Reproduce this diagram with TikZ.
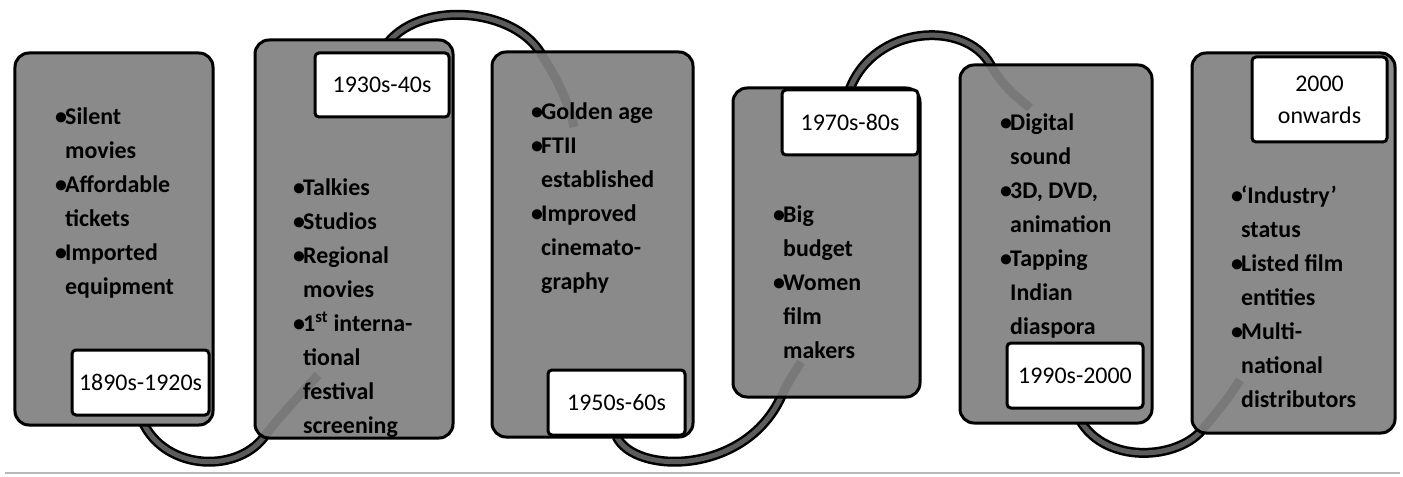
\documentclass[tikz,border=0pt]{standalone}
\usepackage{fontspec}
\setmainfont{Carlito}
\usetikzlibrary{calc}
\definecolor{boxgray}{RGB}{138,138,138}
\definecolor{ribgray}{RGB}{92,92,92}
\definecolor{rulegray}{RGB}{185,185,185}
\pgfdeclarelayer{bg}
\pgfsetlayers{bg,main}
\newcommand{\bl}{\makebox[10bp][l]{\textbullet}}
\newcommand{\ind}{\hspace*{10bp}}
\begin{document}
\begin{tikzpicture}[x=1bp,y=-1bp,
 era/.style={draw=black, line width=3bp, fill=boxgray, rounded corners=14bp, inner sep=0pt},
 tag/.style={draw=black, line width=3bp, fill=white, rounded corners=4bp, inner sep=0pt, align=center, font=\fontsize{24}{32}\selectfont},
 txt/.style={anchor=north west, inner sep=0pt, align=left, font=\fontsize{24}{34}\selectfont\bfseries},
 ribbon/.style={line width=2.5bp, double=ribgray, double distance=5bp},
 tail/.style={line width=9bp, black, opacity=0.12}]
\useasboundingbox (0,0) rectangle (1403,477);
\draw[line width=2bp, rulegray] (5,473) -- (1400,473);

% era boxes
\node[era, minimum width=198bp, minimum height=372bp] (b1) at (114,239) {};
\node[era, minimum width=198bp, minimum height=398bp] (b2) at (354,239) {};
\node[era, minimum width=201bp, minimum height=385bp] (b3) at (592.5,244.5) {};
\node[era, minimum width=187bp, minimum height=309bp] (b4) at (826.5,242.5) {};
\node[era, minimum width=192bp, minimum height=358bp] (b5) at (1056,244) {};
\node[era, minimum width=203bp, minimum height=380bp] (b6) at (1293.5,243) {};

% labels
\node[tag, minimum width=137bp, minimum height=65bp] (l1) at (140.5,382.5) {1890s-1920s};
\node[tag, minimum width=134bp, minimum height=64bp] (l2) at (382,85) {1930s-40s};
\node[tag, minimum width=137bp, minimum height=65bp] (l3) at (616.5,402.5) {1950s-60s};
\node[tag, minimum width=136bp, minimum height=65bp] (l4) at (850,122.5) {1970s-80s};
\node[tag, minimum width=136bp, minimum height=65bp] (l5) at (1075,375.5) {1990s-2000};
\node[tag, minimum width=135bp, minimum height=85bp] (l6) at (1319.5,99.5) {2000\\onwards};

% ribbon entry points and tail ends
\coordinate (r1a) at (264,437);  \coordinate (r1b) at (318,375);
\coordinate (r2a) at (540,52);   \coordinate (r2b) at (574,127);
\coordinate (r3a) at (781,397);  \coordinate (r3b) at (801,362);
\coordinate (r4a) at (990,64);   \coordinate (r4b) at (1030,108);
\coordinate (r5a) at (1202,430); \coordinate (r5b) at (1240,380);

\begin{pgfonlayer}{bg}
\draw[ribbon] (l1.south) .. controls (160,470) and (235,475) .. (r1a) .. controls (280,416) and (300,395) .. (r1b);
\draw[ribbon] (l2.north) .. controls (410,0) and (510,5) .. (r2a) .. controls (555,75) and (568,100) .. (r2b);
\draw[ribbon] (l3.south) .. controls (635,475) and (745,475) .. (r3a) .. controls (788,382) and (795,372) .. (r3b);
\draw[ribbon] (l4.north) .. controls (875,25) and (965,20) .. (r4a) .. controls (1003,87) and (1018,98) .. (r4b);
\draw[ribbon] (l5.south) .. controls (1095,465) and (1175,462) .. (r5a) .. controls (1218,411) and (1230,396) .. (r5b);
\end{pgfonlayer}

% faint continuation over the boxes
\draw[tail] (r1a) .. controls (280,416) and (300,395) .. (r1b);
\draw[tail] (r2a) .. controls (555,75) and (568,100) .. (r2b);
\draw[tail] (r3a) .. controls (788,382) and (795,372) .. (r3b);
\draw[tail] (r4a) .. controls (1003,87) and (1018,98) .. (r4b);
\draw[tail] (r5a) .. controls (1218,411) and (1230,396) .. (r5b);

% bullet texts
\node[txt] (t1) at (55,108) {\bl Silent\\ \ind movies\\ \bl Affordable\\ \ind tickets\\ \bl Imported\\ \ind equipment};
\node[txt] (t2) at (293,179) {\bl Talkies\\ \bl Studios\\ \bl Regional\\ \ind movies\\ \bl 1\textsuperscript{st} interna-\\ \ind tional\\ \ind festival\\ \ind screening};
\node[txt] (t3) at (531,103) {\bl Golden age\\ \bl FTII\\ \ind established\\ \bl Improved\\ \ind cinemato-\\ \ind graphy};
\node[txt] (t4) at (773,206) {\bl Big\\ \ind budget\\ \bl Women\\ \ind film\\ \ind makers};
\node[txt] (t5) at (1000,114) {\bl Digital\\ \ind sound\\ \bl 3D, DVD,\\ \ind animation\\ \bl Tapping\\ \ind Indian\\ \ind diaspora};
\node[txt] (t6) at (1231,186) {\bl `Industry'\\ \ind status\\ \bl Listed film\\ \ind entities\\ \bl Multi-\\ \ind national\\ \ind distributors};
\end{tikzpicture}
\end{document}
